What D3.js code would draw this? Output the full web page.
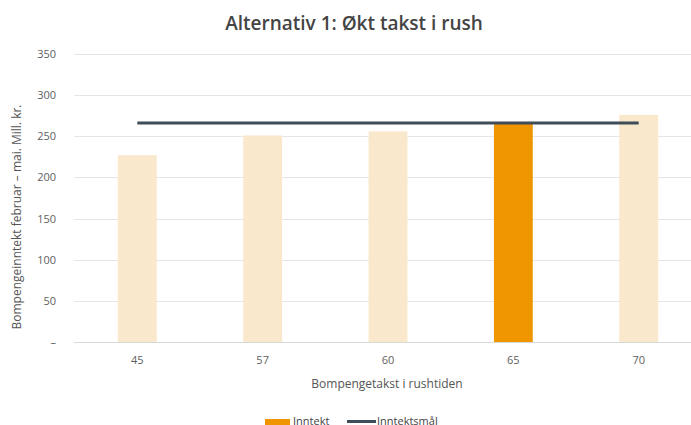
<!DOCTYPE html>
<html>
<head>
<meta charset="utf-8">
<script src="https://cdn.jsdelivr.net/npm/d3@7"></script>
<style>
body { margin: 0; background: #fff; }
svg { display: block; font-family: "Open Sans", sans-serif; }
</style>
</head>
<body>
<div id="chart"></div>
<script>
// data
const takster = ["45", "57", "60", "65", "70"]
const inntekt = [227, 251, 256, 265, 276]
const inntektsmal = [266, 266, 266, 266, 266]
const highlight = "65"
const yTicks = [0, 50, 100, 150, 200, 250, 300, 350]

var width = 691
var height = 425
var margin = {top: 54, left: 74, bottom: 83}

var svg = d3.select("#chart")
    .append("svg")
        .attr("width", width)
        .attr("height", height)

const x = d3.scaleBand()
    .domain(takster)
    .range([margin.left, 702])
    .paddingInner(0.69)
    .paddingOuter(0.35)

const y = d3.scaleLinear()
    .domain([0, 350])
    .range([height - margin.bottom, margin.top])

// gridlines
svg.append("g")
    .selectAll("line")
    .data(yTicks.filter(d => d > 0))
    .join("line")
    .attr("x1", margin.left)
    .attr("x2", width)
    .attr("y1", d => Math.round(y(d)) + 0.5)
    .attr("y2", d => Math.round(y(d)) + 0.5)
    .style("stroke", "#e6e6e6")

// y tick labels
svg.append("g")
    .selectAll("text")
    .data(yTicks)
    .join("text")
    .attr("x", 56)
    .attr("y", d => y(d) + 4)
    .attr("text-anchor", "end")
    .style("font-size", "11px")
    .style("fill", "#606060")
    .text(d => d === 0 ? "–" : d)

// bars
svg.append("g")
    .selectAll("rect")
    .data(takster.map((t, i) => ({t: t, v: inntekt[i]})))
    .join("rect")
    .attr("x", d => x(d.t))
    .attr("y", d => y(d.v))
    .attr("width", x.bandwidth())
    .attr("height", d => y(0) - y(d.v))
    .style("fill", d => d.t === highlight ? "#ee9500" : "#f9e8cb")

// x axis baseline
svg.append("line")
    .attr("x1", margin.left)
    .attr("x2", width)
    .attr("y1", Math.round(y(0)) + 0.5)
    .attr("y2", Math.round(y(0)) + 0.5)
    .style("stroke", "#d8d8d8")

// x tick labels
svg.append("g")
    .selectAll("text")
    .data(takster)
    .join("text")
    .attr("x", d => x(d) + x.bandwidth() / 2)
    .attr("y", 364)
    .attr("text-anchor", "middle")
    .style("font-size", "11px")
    .style("fill", "#606060")
    .text(d => d)

// target line
const line = d3.line()
    .x(d => x(d.t) + x.bandwidth() / 2)
    .y(d => y(d.v))
svg.append("path")
    .datum(takster.map((t, i) => ({t: t, v: inntektsmal[i]})))
    .attr("d", line)
    .style("fill", "none")
    .style("stroke", "#3f4d59")
    .style("stroke-width", 3)

// title
svg.append("text")
    .attr("x", 354)
    .attr("y", 30)
    .attr("text-anchor", "middle")
    .style("font-weight", 600)
    .style("font-size", "19px")
    .style("fill", "#444")
    .text("Alternativ 1: Økt takst i rush")

// axis titles
svg.append("text")
    .attr("transform", "translate(21, 217) rotate(-90)")
    .attr("text-anchor", "middle")
    .style("font-size", "12px")
    .style("fill", "#555")
    .text("Bompengeinntekt februar – mai. Mill. kr.")

svg.append("text")
    .attr("x", 387)
    .attr("y", 388)
    .attr("text-anchor", "middle")
    .style("font-size", "12px")
    .style("fill", "#555")
    .text("Bompengetakst i rushtiden")

// legend
var legend = svg.append("g")
legend.append("rect")
    .attr("x", 265).attr("y", 419)
    .attr("width", 25).attr("height", 10)
    .style("fill", "#ee9500")
legend.append("text")
    .attr("x", 293).attr("y", 425)
    .style("font-size", "11px").style("fill", "#444")
    .text("Inntekt")
legend.append("line")
    .attr("x1", 347).attr("x2", 376)
    .attr("y1", 421.5).attr("y2", 421.5)
    .style("stroke", "#3f4d59").style("stroke-width", 3)
legend.append("text")
    .attr("x", 377).attr("y", 425)
    .style("font-size", "11px").style("fill", "#444")
    .text("Inntektsmål")
</script>
</body>
</html>
